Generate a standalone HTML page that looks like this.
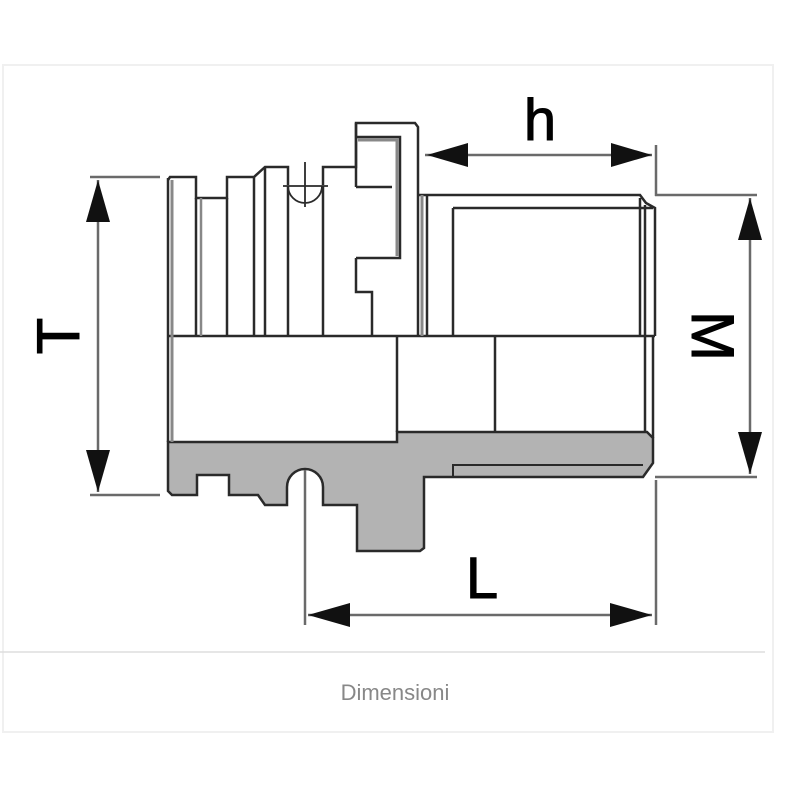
<!DOCTYPE html>
<html><head><meta charset="utf-8"><style>
html,body{margin:0;padding:0;background:#fff;width:800px;height:800px;overflow:hidden}
</style></head><body>
<svg width="800" height="800" viewBox="0 0 800 800" xmlns="http://www.w3.org/2000/svg" font-family="Liberation Sans, sans-serif">
<rect x="3" y="65" width="770" height="667" fill="#fff" stroke="#f0f0f0" stroke-width="2"/>
<line x1="0" y1="652" x2="765" y2="652" stroke="#ddd" stroke-width="1.5"/>
<text x="395" y="700" font-size="22" fill="#888" text-anchor="middle">Dimensioni</text>

<g fill="none" stroke="#2a2a2a" stroke-width="2.5">
<path d="M168,442 L397,442 L397,432 L647,432 L653,438 L653,463 L643,477 L424,477 L424,548 L420,551 L357,551 L357,505 L323,505 L323,487 A18,18 0 0 0 287,487 L287,505 L265,505 L258,495 L229,495 L229,475 L197,475 L197,495 L172,495 L168,491 Z" fill="#b3b3b3"/>
<path d="M453,477 L453,465 L643,465" stroke-width="2"/>
<line x1="168" y1="336" x2="655" y2="336"/>
<line x1="168" y1="178" x2="168" y2="442"/>
<line x1="172" y1="180" x2="172" y2="442" stroke="#888" stroke-width="3"/>
<path d="M168,180 L170,177 L196,177 L196,198 L227,198 L227,177 L254,177 L265,167 L288,167 L288,185 M323,185 L323,167 L356,167 L356,123 L415,123 L418,127 L418,336"/>
<path d="M283,186 L328,186 M288,186 A17,17 0 0 0 322,186 M305,162 L305,207" stroke-width="1.8"/>
<line x1="196" y1="198" x2="196" y2="336"/><line x1="201" y1="198" x2="201" y2="336" stroke="#888"/>
<line x1="227" y1="198" x2="227" y2="336"/>
<line x1="254" y1="177" x2="254" y2="336"/><line x1="265" y1="167" x2="265" y2="336"/>
<line x1="288" y1="186" x2="288" y2="336"/><line x1="323" y1="186" x2="323" y2="336"/>
<path d="M356,137 L400,137 L400,258 L356,258 M356,187 L392,187 M356,123 L356,187 M356,258 L356,292 L372,292 L372,336"/>
<path d="M358,140 L397,140 L397,256" stroke="#888" stroke-width="3"/>
<path d="M418,195 L640,195 L646,203 L655,208 L655,336 M453,208 L653,208 M453,208 L453,336 M640,198 L640,336 M645,205 L645,336"/>
<line x1="422" y1="195" x2="422" y2="336" stroke="#888" stroke-width="3"/>
<line x1="427" y1="195" x2="427" y2="336"/>
<line x1="397" y1="336" x2="397" y2="432"/>
<line x1="495" y1="336" x2="495" y2="432"/>
<line x1="645" y1="336" x2="645" y2="432"/>
<line x1="653" y1="336" x2="653" y2="438"/>
</g>

<g stroke="#6a6a6a" stroke-width="2.5" fill="none">
<line x1="90" y1="177" x2="160" y2="177"/><line x1="90" y1="495" x2="160" y2="495"/>
<line x1="98" y1="180" x2="98" y2="492"/>
<line x1="425" y1="155" x2="652" y2="155"/><line x1="656" y1="145" x2="656" y2="196"/>
<line x1="655" y1="195" x2="757" y2="195"/><line x1="655" y1="477" x2="757" y2="477"/>
<line x1="750" y1="198" x2="750" y2="474"/>
<line x1="305" y1="470" x2="305" y2="625"/><line x1="656" y1="480" x2="656" y2="625"/>
<line x1="308" y1="615" x2="652" y2="615"/>
</g>
<g fill="#111">
<polygon points="98,180 86,222 110,222"/><polygon points="98,492 86,450 110,450"/>
<polygon points="427,155 468,143 468,167"/><polygon points="652,155 611,143 611,167"/>
<polygon points="750,198 738,240 762,240"/><polygon points="750,474 738,432 762,432"/>
<polygon points="308,615 350,603 350,627"/><polygon points="652,615 610,603 610,627"/>
</g>
<g fill="#000" font-size="60" text-anchor="middle" stroke="#000" stroke-width="1">
<text x="540" y="140" font-size="58">h</text>
<text x="482" y="598" font-size="58">L</text>
<text transform="translate(79,336) rotate(-90)" x="0" y="0">T</text>
<text transform="translate(692,336) rotate(90)" x="0" y="0">M</text>
</g>
</svg>
</body></html>
